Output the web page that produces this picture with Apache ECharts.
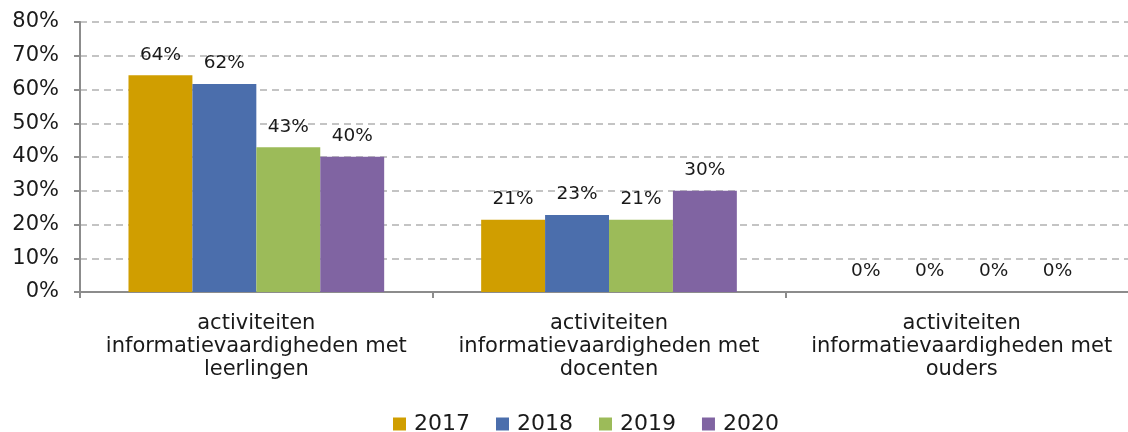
<!DOCTYPE html>
<html>
<head>
<meta charset="utf-8">
<script src="https://cdn.jsdelivr.net/npm/echarts@6/dist/echarts.min.js"></script>
<style>
  html, body { margin: 0; padding: 0; background: #fff; }
  #main { width: 1128px; height: 432px; }
</style>
</head>
<body>
<div id="main"></div>
<script>
const categories = [
  'activiteiten\ninformatievaardigheden met\nleerlingen',
  'activiteiten\ninformatievaardigheden met\ndocenten',
  'activiteiten\ninformatievaardigheden met\nouders'
]
const years = ['2017', '2018', '2019', '2020']
const v2017 = [64.2, 21.4, 0]
const v2018 = [61.6, 22.8, 0]
const v2019 = [42.9, 21.4, 0]
const v2020 = [40.1, 30.0, 0]
const colors = ['#D09E00', '#4B6EAC', '#9CBB59', '#8064A2']

const font = 'DejaVu Sans, Verdana, sans-serif'
const myChart = echarts.init(document.getElementById('main'))

const series = [v2017, v2018, v2019, v2020].map((data, i) => ({
  name: years[i],
  type: 'bar',
  data: data,
  barGap: '0%',
  barCategoryGap: '27.5%',
  itemStyle: { color: colors[i] },
  label: {
    show: true,
    position: 'top',
    distance: 11,
    fontFamily: font,
    fontSize: 18.5,
    color: '#1a1a1a',
    formatter: p => Math.round(p.value) + '%'
  }
}))

const option = {
  animation: false,
  color: colors,
  // plot area runs past the right edge of the picture
  grid: { left: 80, width: 1058, top: 22, bottom: 140, outerBoundsMode: 'none', containLabel: false },
  legend: {
    data: years,
    top: 408,
    left: 388,
    icon: 'rect',
    itemWidth: 13,
    itemHeight: 13,
    itemGap: 26,
    textStyle: { fontFamily: font, fontSize: 22, color: '#1a1a1a', padding: [0, 0, 0, 3] }
  },
  xAxis: {
    type: 'category',
    data: categories,
    axisLine: { lineStyle: { color: '#8c8c8c', width: 2 } },
    axisTick: { show: true, length: 6, lineStyle: { color: '#8c8c8c', width: 2 } },
    axisLabel: {
      interval: 0,
      margin: 20,
      fontFamily: font,
      fontSize: 21,
      lineHeight: 23,
      color: '#1a1a1a'
    }
  },
  yAxis: {
    type: 'value',
    min: 0,
    max: 80,
    interval: 10,
    axisLine: { show: true, lineStyle: { color: '#8c8c8c', width: 2 } },
    axisTick: { show: true, length: 6, lineStyle: { color: '#8c8c8c', width: 2 } },
    axisLabel: {
      margin: 21,
      fontFamily: font,
      fontSize: 21,
      color: '#1a1a1a',
      formatter: '{value}%'
    },
    splitLine: { lineStyle: { color: '#c4c4c4', width: 2, type: [7, 5] } }
  },
  series: series
}

myChart.setOption(option)
</script>
</body>
</html>
